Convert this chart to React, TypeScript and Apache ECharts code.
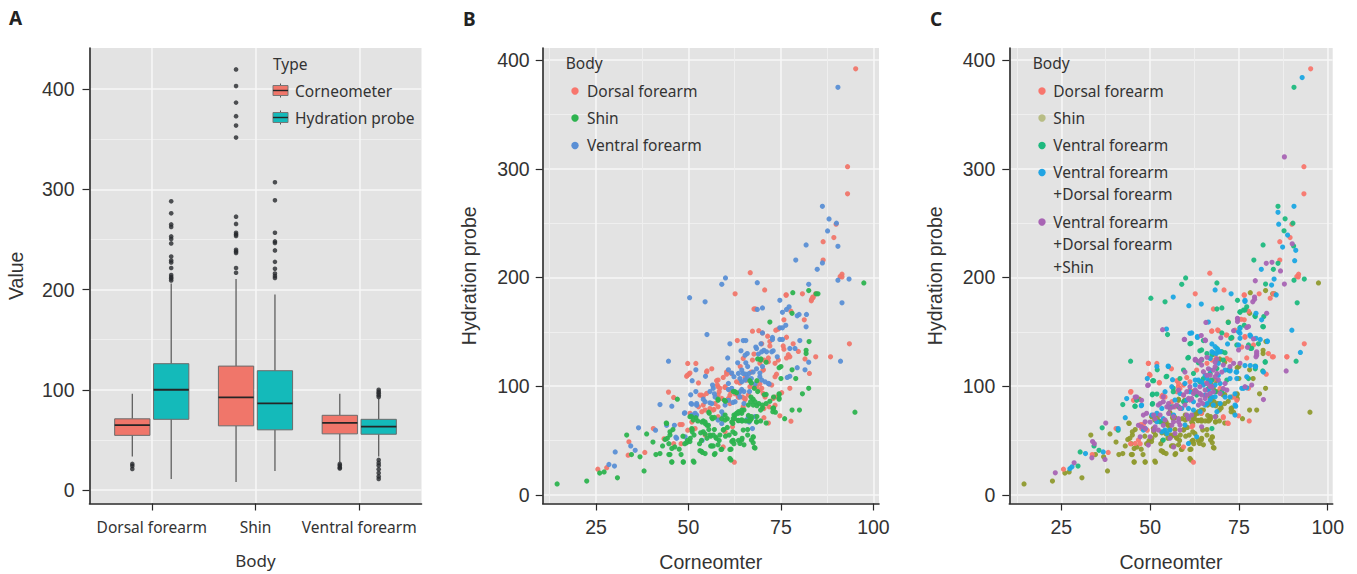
import React, { useEffect, useRef } from "react";
import * as echarts from "echarts";

const bodies = ["Dorsal forearm", "Shin", "Ventral forearm"];
// [low whisker, q1, median, q3, high whisker]
const boxCorneometer = [
  [33.5, 54.5, 64.7, 71, 96],
  [8, 64, 92.4, 123.6, 210.5],
  [28, 56, 67, 74.5, 96],
];
const boxHydration = [
  [11, 70.5, 100, 126, 206],
  [19, 60, 86.5, 119, 195],
  [33.5, 55.6, 63.3, 70.5, 91],
];
const outCorneometer = [
  [26, 24, 21],
  [419.6, 403, 386.5, 373, 363.6, 351.6, 272.7, 265.5, 256.7, 255, 253.5, 239.6, 238, 236.4, 221.5, 216.7],
  [26, 24.4, 22.5, 21.5],
];
const outHydration = [
  [288, 276, 265, 262.5, 253, 250.5, 246, 233, 229, 227, 221.5, 214.5, 212.4, 211, 209],
  [307, 289, 256.7, 248, 246.5, 239, 227.6, 220.7, 216, 213.5, 211.6],
  [100, 98, 96.4, 94.5, 92.7, 30, 27, 24.4, 20.7, 17, 13.5, 11],
];

const shin = [
  [14.5,10],[22.5,12.6],[26,20],[27.2,21],[30.8,15.6],[33.3,55],[34.6,37],[36.9,35],[38,22],[38.7,56],[40.4,48.5],[41.2,37],[42.3,38],[43,45],[44,66],[44.3,52],[45,55],[45,37],[45.5,30],[45.8,60],[46.3,44],[47,88],[48,37],[47.5,42],[48.6,30],[48.5,54],[49.5,48],[50.5,52],[50.8,72],[51,60],[51.5,55],[51.5,30],[52,71],[52.5,68],[53,47],[53.5,50],[53.5,40],[54.5,38],[54.5,67],[54,58],[55,64],[55,52],[55.5,76],[55.5,60],[56,54],[56,45],[56.5,70],[57,37],[57,60],[57.5,52],[58,88],[58,46],[58.5,55],[59,70],[59,42],[59.5,60],[60,86],[60.5,70],[60.5,62],[61,55],[61.5,42],[61.5,32],[62,50],[62.3,47],[62.5,70],[62.5,95],[63,94],[63.5,50],[63.5,75],[64,76],[64.5,52],[64.5,68],[65,46],[65,78],[65.5,68],[66,55],[66,60],[66.5,68],[67,70],[67,103],[67.5,88],[67.5,48],[67.5,53],[68,43],[68.5,105],[68.5,82],[68.5,72],[69,84],[69.5,78],[69.5,68],[70,80],[70.5,92],[71,66],[72,86],[73,90],[73,80],[73.5,76],[74.5,92],[74.5,88],[75,107],[75,118],[74.5,117],[76,70],[78,115],[78,78],[79,107],[80,78],[80.8,93],[82.5,98],
  [69.5,124],[71,122],[72,159],[78,167],[78.2,186],[82.5,188],[85,185],[84.5,185],[82.6,141],[81.8,130],[81.8,133],[95,76],[97.4,195],[68.7,125],[69.6,125],[66.9,90],[67.8,98],[66.6,105],[62.1,95],[59.7,87],[58,87],[55.6,75],[68,85.6],[67.5,82.6],[71,84],[72.8,79.5],[72.8,76.5],[74.5,93],[74.5,89],[71,92.4],[68.7,95],[66.2,73],[67,72],[66.8,69],[68.4,67],[64.4,69],[63.5,68.5],[64.4,75],[63,75],[62.6,73.4],[61.7,67],
  [53.6,67],[54.5,65.7],[55.4,64],[50.9,61],[51,58],[53.3,57],[54.5,56],[55.8,55],[56.7,55],[57.4,53],[58.3,50],[56.3,45],[56.7,45],[53.1,40.6],[53.8,39],[49.7,50],[49,47],[50.4,49],[45.5,42.7],[44.7,37],[43.7,51],[44.7,47],[58.8,41.8],[61.2,41.8],[63.9,47.3],[64.4,50.4],[61.7,49],[62.1,50],[60,54],[59.4,59.6],[62,58],[62.6,56.5],[64.8,59.6],[67,50.4],[67.5,53.4],[67.8,43.6],[57.2,38],[51.3,31],[48.6,30.4],[45.5,30.4],[61.2,33.5],[59.9,68.8],[59.9,73.4],[56.3,71.2],[57,71.2],[54,68],[50.4,71.9],[51.3,68.8],[44.1,65.7],[45,58],[62.3,73.4],[63.5,76.5],[64.4,78],[66.2,82.6],[66.8,85.7],[70,82.6],[62.1,70.3],[62,65.7],[63.5,68.2],[64.4,68.2],[66.2,68.2],[68.4,67.3],
];
const dorsal = [
  [95.2,392],[93,302],[93,277],[89.9,249],[89.3,236.7],[86.4,233],[86.4,216],[91.5,203],[91,201],[91.5,200.5],[66.7,204.4],[62.6,185],[70.6,188.5],[76.4,184],[80.8,185],[84.4,185],[83.6,182],[83.3,180],[83.2,178.5],[83.7,181.6],
  [93.5,139],[88.4,127],[84.4,127],[82.7,111.7],[77.4,98],[77.7,67.8],[74.7,72.7],[71.6,66],[70.4,71],[70.4,79.4],[71.8,81],[73,79.4],[73.4,82.5],[62.4,30],[59.4,44],[61.9,62.6],[61.9,67],[54.5,55],[48,47],[46,47],[43.4,51.5],[38.2,39],[33.9,48.8],[33.7,36.5],[27.9,25],[25.5,23.6],[40.5,61],[44.6,94.5],[46,89.6],[49.8,120.9],[52,120.9],[49.5,109],[50.1,111],[52.7,103],[55,114],[56.3,116],[57.6,105],[59.4,108],[60.3,113],[59.9,98.8],[58,99.4],[58.3,94.8],[53.6,91.7],[54,90.8],[52.7,81],[55.8,79.4],[57.2,84],[58,81],[56.7,78],[50.4,75],[49.8,59.5],[47.7,64.7],[48.3,64.7],[50.9,67],[60.8,87],[61.2,84],[63.5,90],[65.3,87.7],[64.8,81],[63.2,142],[67.3,150.6],[69,151],[70,149],[71.4,146],[73.6,151.5],[74.3,152.5],[75.8,161],[76.5,145],[81.3,161],[67.7,171],[68.1,171],[76.4,183.7],[77.7,169],[78.3,139],[75.6,137],[75.8,134],[77.4,127],[76.5,126],[77,129],[79.7,132],[81.5,125],[74.3,124],[73.4,121],[72,141],[72,137],[69.8,139],[67.7,129.5],[67.3,124],[70.4,124],[71.6,126],[70.2,115],[67,113],[64.8,125.5],[64,118],[61.6,111.7],[63,104],[65.3,108],[65.7,105.5],[68.4,99.4],[69.3,102],[69.8,98],[71.8,102],[72.5,101],[70.7,90],[73.4,90],[75.2,94],[61.2,96],[61.2,91.7],[62.6,93],[64.6,90],[67.7,98.8],
  [49.7,110],[50.4,112],[54.9,113],[58,105.6],[60.3,111],[57.8,101],[58.5,98],[59.9,99.5],[53.1,91.8],[54.9,93.3],[58,91.8],[59,88.7],[60.8,88.7],[54,82.6],[54.5,78],[56.9,78.6],[53.6,76.5],[51.8,61],[58,71.9],[59.9,58],[69.3,121],[71.6,122.5],[70.2,114.8],[73.4,108.7],[73.8,111],[63.9,103],[66.6,99.5],[69.3,96.4],[70.2,93.3],[72.9,88.7],[65.3,88.7],[66.2,91.8],[63.5,90],
];
const ventral = [
  [90.4,375],[86.2,265.5],[88,253.9],[90,250],[87.6,242.8],[81.8,230],[90.4,228.7],[79,216],[86.2,213.4],[84.8,207.5],[60,199.6],[59,193.7],[68.6,195.2],[90.4,197.5],[93.4,198.5],[82.5,193.7],[74.7,179],[50.3,181.4],
  [54.5,177.6],[91.5,176.7],[55,147.5],[44.6,123],[91.1,123],[82.5,122],[52,115],[54.6,109],[51,105],[50.6,92],[42.3,83],[45.5,81.6],[50.9,83.4],[52.2,82.5],[48.9,75],[50.9,73],[51.8,73],[36.5,61.7],[41.1,59.5],[44.1,64],[46.2,64],[46.8,52],[49.1,53.4],[53.7,50],[34.4,45],[35.6,41],[30.2,39.5],[28.5,28],[30,26.4],[61.2,139],[60.6,126],[63.3,121.5],[64.8,142],[65.5,142],[64.2,132.5],[65.3,128.5],[65.9,130],[68.2,136],[68.4,134.7],[69.6,139],[70,149],[68.9,129.5],[69.8,131.6],[70.4,133],[71.1,131.6],[72.5,131.6],[72.9,132.5],[72.7,144.8],[72.7,143],[74.7,143],[75.4,143],[74.7,153.7],[75.4,153.7],[76.3,156],[75.4,168],[76.5,170.6],[77.2,173],[79.4,164.7],[79.9,166],[81.9,166],[81.8,154.6],[68.6,170.6],[70,172],[77.4,134.7],[78.8,134.7],[80.1,142],[74,127],[79.4,117],[81.5,115],[76.7,108],[77.4,109],
  [65.5,121.5],[60.8,115],[61.7,112],[64.8,111.7],[65.5,111],[66.4,111.7],[69.3,112],[69.3,108.7],[69.8,105.6],[70.7,104],[71.8,102],[63.9,107],[64.4,104],[65.3,105.6],[65.9,108],[67,107],[56.5,101],[56.7,98],[55.8,95],[60.8,102.5],[61.7,98],[60.8,97],[64.4,97],[65,95],[57.2,90],[54.5,85.7],[55.8,84.7],[56.3,84],[50.7,84],[52.2,84],[49,75.5],[50.9,73.4],[51.8,75],[52.2,73.4],[59,76.4],[59.4,73.4],[58,68.8],[59,65.7],[46.6,53],[67.3,61],[66.2,72],[65.7,69],[66.4,67],[68,72],[59.9,82.6],[60.8,87],[62.6,85.7],[63.5,93],[63.9,90],
  [62.3,108.7],[63.5,111.7],[64.4,114.8],[67.5,113],[68.4,116],[71.6,102.5],[64,95],[62,85],[57,93],[54,88],[52,95],[66,118],[70,118],[68,102],[66.5,95],[65,84],
];

const cDorsal = [
  [95.2,392],[93.3,302],[93.3,277],[89.9,249],[89.4,236.7],[86.5,233],[86.5,216],[91.8,203],[91.3,201],[91.7,200.5],[66.8,204],[62.7,185],[70.8,188.5],[76.5,184],[80.7,185],[84.7,185],[83.8,181],
  [93.4,139],[88.5,127],[84.4,127],[82.7,111],[77.7,98],[77.9,68],[74.9,72.7],[71.8,66],[70.6,71],[62.2,30],[59.4,44],[62,63.5],[47.2,47],[44.5,47],[38.2,39],[33.7,37],[25.6,23.6],[44.5,94.5],[46,89.6],[49.5,120.9],[51.9,120.9],[49.8,111],[52.6,103],[56,116],[57.5,105],[60.3,108],[57.9,99.4],[53.5,91.7],[53.9,90.8],[48.1,64.7],[47.4,64.7],[49.2,59.5],[40.4,61],[67.3,150.6],[69.2,151],[71.6,147],[73.9,151.5],[76.5,161],[76.7,145],[67.8,171],[76.5,183.7],[77.7,169],[75.8,136],[77.2,126],
  [52.6,103.4],[50,110],[58,102.5],[57.5,94.9],[59.4,101],[61.2,104],[58.4,97.9],[67.4,124],[68.3,128.6],[72.5,124],[71.6,125.5],[74.4,87],[70.6,71.9],[72,65.7],[45.3,87],[54.2,90],[56.1,85.7],[73.5,90],[59.4,91.8],[61.7,62.6],[49.5,121],[44.6,95],
  [66,121],[63.1,114.8],[65.5,102.5],[67.8,105.6],[69.7,97.9],[61.2,96.4],[64.5,75],[53.3,90.3],[57,81],[46.7,50.4],[45.8,47.3],[47.6,61],
  [67.4,150.8],[69,151.7],[71.4,147],[73,144],[76.7,145.6],[79.1,137.9],[75.6,161.5],[83.3,130],[84.7,127],[88.5,127],
];
const cVentral = [
  [90.5,375],[86,265.5],[88,254],[90.2,250],[87.7,243],[81.8,230],[90.4,229],[79.2,216],[86,213],[84.7,207.5],[60,199.6],[58.9,193.7],[68.8,195],[90.5,197.5],[93.4,198.5],[82.5,194],[74.6,179],[50.2,181],
  [54.2,177.6],[91.4,176.7],[54.9,147.5],[44.5,123],[91.1,123],[82.4,122],[52,115],[54.7,109],[50.7,105],[50.6,92],[42.3,83],[45.7,81.6],[50.6,83.4],[36.5,61.7],[41,59.5],[30.3,39.5],[29.7,26.4],[35.6,41],[34.2,45],[61.2,139],[60.6,126],[64,132.5],[65,142],[68.8,134.7],[69.2,131.6],[73,144.8],[75.3,168],[76.3,170],[77.2,173],[79.5,164.7],[81.9,154.6],[68.8,171],[70.2,172],[78.3,134.7],[80.5,139],[79.6,116],[81.7,114],[72,158.6],[70.2,149],
  [60.8,126.4],[63.6,121.5],[66,130],[70.6,124],[51,105],[54.5,108.7],[56.5,98],[56.5,94.9],[50.7,92.7],[51.9,92.7],[50.7,84],[45.8,81.6],[58.4,107],[59.4,114.8],[64,104],[67.4,105.6],[63.1,91.8],[67.4,61],[53.7,50.4],[66.9,111.7],[68.3,94.9],[62.2,111.7],[71.6,105.6],[77.7,107],[79.6,118.5],[82.4,122.5],[46.2,87],[58,81],
  [65,107],[66.4,97.9],[70.2,94.9],[64.5,124],[67.4,128.6],[68.8,116.3],[72,114.8],[56.1,81],[59.4,85.7],[52.8,67.2],
  [64.5,133.3],[61.5,139.4],[70.2,131.7],[71.1,130.8],[72.7,144],[74.4,137.9],[77.7,137.9],[78.6,134.8],[75.3,154],[76.5,156],[75.3,168.5],[76.7,170],[79.6,164],[82,164],[81.7,154.8],
];
const cBoth = [
  [92.8,384],[90.5,265.5],[86,260],[86.2,249],[88.7,239],[87.3,228],[91,225],[90.7,215.5],[81.3,207.5],[84.9,198.5],[84.2,193],[68.3,188.5],[72.8,185],[56.5,182],[76.7,179],[85.5,184],
  [89.9,151.5],[92.3,131],[60.9,174],[64.4,175.5],[54.6,152.5],[55.1,118],[43.4,88.6],[43,71],[41,61],[31.8,38],[36.8,39.5],[28,25.8],[27.4,24],[47.5,82],[49.2,107],[61.7,149],[63.3,144.8],[66.4,159],[74.9,150],[75.3,153],[79.8,167],[81.4,161],[78.1,147],[81,143],[83,141],[74.1,81.6],[73.9,93],[76.3,98],[77.2,108.6],[79.7,118],[74.2,113],[72.5,115],
  [55.1,118.5],[51.9,118],[56.3,106],[66,107],[66.9,104],[63.6,105.6],[69.2,110],[72.5,114],[74.4,113],[72.5,107],[74.4,107],[66.4,96.4],[65,101],[66,84],[67.4,90],[68.8,76.5],[73.9,82.6],[73.9,73.4],[75.8,98],[77.2,98.5],[54.2,94.9],[56.1,99.5],[58.4,93.3],[60.8,79.5],[62.2,85.7],[62.7,105.6],[53.7,70],[50.5,73.4],[51.9,75],[47.6,82.6],[48.1,59.6],[48.6,61],[53.3,58],[54.7,56.5],[55.6,59.6],[60.8,47.3],[63.1,53.4],[78.2,119],[76.7,119],[81.9,113],[79.6,118],[67.8,130.7],[69.7,131.7],[71.1,90],[69.7,84],[72.5,90],
  [66.9,114.8],[65.5,110],[64.5,104],[65.5,91.8],[66.9,87.2],[67.8,82.6],[62.7,101],[61.2,94.9],[59.8,102.5],[60.3,87.2],[57,87.2],[55.2,81],[53.3,79.5],[51.9,67.2],[54.2,59.6],[59.8,64.2],[68.3,101],[69.7,102.5],[71.1,114.8],[69.2,121],[66.9,125.5],
  [67.4,138.8],[68.3,136.3],[69,133.9],[69.5,131.7],[68.6,130],[71.8,138.8],[74.9,137.9],[75.3,148.6],[78.3,146],[79.8,144],[83,141.6],[75.3,144],[67.4,131.7],[76.7,177.8],[61.2,148.6],[63.3,145.6],
  [58.9,79.5],[62.2,78],[56.6,73.4],[60.8,71.9],[64.1,76.5],[65.5,82.6],[67.4,99.5],[68.3,90.2],
];
const cAll = [
  [87.8,311],[90,231],[84.3,214],[82.7,213],[86.7,206],[87.8,194],[79.6,197],[79.4,182],[88.3,114],[81.9,87.7],[53.5,152],[65.7,158.6],[59.6,143],[65.6,142],[62.8,124],[63.9,123],[77.2,154],[74.6,162],[82.8,167],[80,131.6],[80,128.5],[79.4,180],[78.9,177.6],[49.3,100.6],[47.6,87],[46.2,90],[37.5,66],[33.8,49],[33.6,34],[37.3,32.5],[28.6,29.4],[23.3,20.2],[34.3,47],
  [66.4,116],[67.8,114.8],[68.8,111.7],[66.9,110],[69.2,105.6],[66,102.5],[67.4,99.5],[65.5,96.4],[66.9,93.3],[64.1,87],[64.8,84],[62.7,96.4],[60.3,94.9],[59.4,91.8],[61.7,88.7],[55.2,84],[56.6,81],[52.8,84],[53.7,85.7],[48.1,73.4],[49,75],[51.4,70],[50,67],[46.7,64],[48.6,61],[51,59.6],[47.2,53.4],[49.5,45.8],[55.6,52],[57,56.5],[58.4,59.6],[56.6,44],[64.5,62.6],[60.8,70],[68.3,71.9],[50,53.4],[52.3,59.6],[71.1,102.5],[71.6,96.4],[75.3,121],[72.5,118],[68.3,122],[68.8,125],[70.2,113],[59.8,113],[62.7,124],[64.5,119.4],[76.7,99.5],[78.6,101],[45.8,90],[49.5,101],[58,96.4],[61.2,99.5],[64,93.3],[65.5,88.7],[63.6,82.6],[60.3,73.4],[58,70],[56.1,64],[53.7,64],
  [65,113.3],[66,110],[68.3,108.7],[64,99.5],[63.1,94.9],[64.5,91.8],[66,91.8],[62.2,93.3],[60.8,88.7],[66.9,99.5],[67.8,94.9],[69.7,93.3],[70.6,97.9],[68.3,117.9],[70.6,119.4],[73.5,121],[55.6,79.5],[54.7,81],[57.5,82.6],[58.4,79.5],[48.6,67.2],[47.6,62.6],[51.4,62.6],[54.2,68.8],[56.6,71.9],[58.4,64.2],[61.7,73.4],
  [59.7,143],[64.4,146.5],[65.5,142.5],[69.9,144.6],[73.5,151],[74.6,162.4],[74.6,159.4],[77.7,154.8],[80,130],[79.8,127],[74.9,133.3],[77.4,135.7],[79.1,143.4],[66,126.5],[64.5,124.7],[62.7,124.7],
  [59.8,82.6],[61.2,87.2],[53.7,90.3],[52.3,82.6],[55.2,74.9],[58,67.2],[51,73.4],[52.8,73.4],[56.6,67.2],
];

const yTicks = [0, 100, 200, 300, 400];
const yMinor = [50, 150, 250, 350];
const xTicks = [25, 50, 75, 100];
const xMinor = [12.5, 37.5, 62.5, 87.5];

const C_RED = "#F0766A";
const C_TEAL = "#14BABA";
const DARK = "#333333";
const NUM_FONT = "Liberation Sans";
const TXT_FONT = "Noto Sans";

const grids = [
  { left: 89.5, top: 48, width: 332, height: 455.5 },
  { left: 542.7, top: 48, width: 336.3, height: 455.5 },
  { left: 1009.3, top: 48, width: 323.4, height: 455.5 },
];

const axisLine = { show: true, onZero: false, lineStyle: { color: "#2a2a2a", width: 1.6 } };
const axisTick = (vals: number[]) => ({ show: true, length: 7, customValues: vals, lineStyle: { color: "#2a2a2a", width: 1.2 } });
const major = { show: true, lineStyle: { color: "#F7F7F7", width: 1.6 } };
const minor = { show: true, lineStyle: { color: "#EFEFEF", width: 1 } };

function minorAxis(gridIndex: number, min: number, max: number, vals: number[]) {
  return {
    type: "value", gridIndex, min, max,
    axisLine: { show: false }, axisLabel: { show: false },
    axisTick: { show: false, customValues: vals }, splitLine: minor,
  };
}
function valueX(gridIndex: number, min: number, max: number) {
  return {
    type: "value", gridIndex, min, max, name: "Corneomter", nameLocation: "middle", nameGap: 48,
    nameTextStyle: { color: DARK, fontSize: 19.5, fontFamily: NUM_FONT },
    axisLine, axisTick: axisTick(xTicks), splitLine: major,
    axisLabel: { customValues: xTicks, color: DARK, fontSize: 19.5, fontFamily: NUM_FONT, margin: 13 },
  };
}
function valueY(gridIndex: number, min: number, max: number, name: string, gap: number, margin: number) {
  return {
    type: "value", gridIndex, min, max, name, nameLocation: "middle", nameGap: gap,
    nameTextStyle: { color: DARK, fontSize: 19.5, fontFamily: NUM_FONT },
    axisLine, axisTick: axisTick(yTicks), splitLine: major,
    axisLabel: { customValues: yTicks, color: DARK, fontSize: 19.5, fontFamily: NUM_FONT, margin },
  };
}

function boxSeries(name: string, rows: number[][], offset: number, fill: string) {
  return {
    type: "custom", name, xAxisIndex: 0, yAxisIndex: 0, z: 3,
    data: rows.map((r, i) => [i + 1, ...r]),
    encode: { x: 0, y: [1, 2, 3, 4, 5] },
    renderItem: (_: any, api: any) => {
      const c = api.value(0) + offset;
      const half = 0.17;
      const P = (x: number, y: number) => api.coord([x, y]);
      const [lo, q1, med, q3, hi] = [1, 2, 3, 4, 5].map((k) => api.value(k));
      const whisker = { stroke: "#555555", lineWidth: 1.2 };
      const seg = (a: number[], b: number[], style: any) => ({
        type: "line", shape: { x1: a[0], y1: a[1], x2: b[0], y2: b[1] }, style,
      });
      const tl = P(c - half, q3);
      const br = P(c + half, q1);
      return {
        type: "group",
        children: [
          seg(P(c, lo), P(c, q1), whisker),
          seg(P(c, q3), P(c, hi), whisker),
          {
            type: "rect",
            shape: { x: tl[0], y: tl[1], width: br[0] - tl[0], height: br[1] - tl[1] },
            style: { fill, stroke: "#6b6b6b", lineWidth: 1 },
          },
          seg(P(c - half, med), P(c + half, med), { stroke: "#262626", lineWidth: 1.8 }),
        ],
      };
    },
  };
}
function outlierSeries(rows: number[][], offset: number) {
  return {
    type: "scatter", xAxisIndex: 0, yAxisIndex: 0, symbolSize: 4.6, z: 4,
    itemStyle: { color: "#25282C" },
    data: rows.flatMap((vals, i) => vals.map((v) => [i + 1 + offset, v])),
  };
}
function dots(name: string, data: number[][], color: string, xi: number, yi: number, z: number) {
  return {
    type: "scatter", name, data, xAxisIndex: xi, yAxisIndex: yi, symbolSize: 5.2, z,
    itemStyle: { color, opacity: 0.95 },
  };
}

function label(text: string, x: number, y: number, size = 15.5, font = TXT_FONT, weight = "normal", color = DARK) {
  return {
    type: "text", x, y, silent: true, z: 100,
    style: { text, fill: color, fontSize: size, fontFamily: font, fontWeight: weight, textVerticalAlign: "middle", textBaseline: "middle" },
  };
}
function dotKey(x: number, y: number, fill: string) {
  return { type: "circle", z: 100, shape: { cx: x, cy: y, r: 3.7 }, style: { fill }, silent: true };
}
function boxKey(x: number, y: number, fill: string) {
  return {
    type: "group", silent: true,
    children: [
      { type: "line", z: 100, shape: { x1: x + 7.5, y1: y - 7, x2: x + 7.5, y2: y + 7 }, style: { stroke: "#555", lineWidth: 1 } },
      { type: "rect", z: 101, shape: { x, y: y - 5, width: 15, height: 10 }, style: { fill, stroke: "#777", lineWidth: 1 } },
      { type: "line", z: 102, shape: { x1: x, y1: y, x2: x + 15, y2: y }, style: { stroke: "#262626", lineWidth: 1.4 } },
    ],
  };
}

const graphics = [
  label("A", 9, 18, 19, TXT_FONT, "bold", "#222"),
  label("B", 463, 19, 19, TXT_FONT, "bold", "#222"),
  label("C", 930, 19, 19, TXT_FONT, "bold", "#222"),
  label("Type", 273, 63.5),
  boxKey(273, 90.5, C_RED),
  label("Corneometer", 295, 90.5),
  boxKey(273, 117.5, C_TEAL),
  label("Hydration probe", 295, 117.5),
  label("Body", 565.7, 63),
  dotKey(575, 91, "#F8766D"),
  label("Dorsal forearm", 587, 90.5),
  dotKey(575, 118, "#2DB34F"),
  label("Shin", 587, 117.5),
  dotKey(575, 145.5, "#5A8FD5"),
  label("Ventral forearm", 587, 145.3),
  label("Body", 1032.7, 63),
  dotKey(1042, 91, "#F8766D"),
  label("Dorsal forearm", 1053.3, 90.7),
  dotKey(1042, 118, "#B8BD85"),
  label("Shin", 1053.3, 117.7),
  dotKey(1042, 145.5, "#1DB97E"),
  label("Ventral forearm", 1053.3, 145.3),
  dotKey(1042, 172.5, "#21A4E3"),
  label("Ventral forearm", 1053.3, 172.3),
  label("+Dorsal forearm", 1053.3, 194.3),
  dotKey(1042, 222, "#A864B4"),
  label("Ventral forearm", 1053.3, 221.7),
  label("+Dorsal forearm", 1053.3, 244.3),
  label("+Shin", 1053.3, 266.7),
];

export default function App() {
  const ref = useRef<HTMLDivElement>(null);
  useEffect(() => {
    document.body.style.margin = "0";
    const chart = echarts.init(ref.current!, null, { renderer: "svg" });
    chart.setOption({
      animation: false,
      backgroundColor: "#ffffff",
      grid: grids.map((g) => ({ ...g, show: true, backgroundColor: "#E3E3E3", borderWidth: 0, containLabel: false, outerBoundsMode: "none" })),
      xAxis: [
        {
          type: "value", gridIndex: 0, min: 0.4, max: 3.6, name: "Body", nameLocation: "middle", nameGap: 48,
          nameTextStyle: { color: DARK, fontSize: 17, fontFamily: TXT_FONT },
          axisLine, axisTick: axisTick([1, 2, 3]), splitLine: major,
          axisLabel: { customValues: [1, 2, 3], formatter: (v: number) => bodies[v - 1], color: DARK, fontSize: 15.5, fontFamily: TXT_FONT, margin: 15 },
        },
        valueX(1, 10.6, 101.5),
        minorAxis(1, 10.6, 101.5, xMinor),
        valueX(2, 10.35, 101.4),
        minorAxis(2, 10.35, 101.4, xMinor),
      ],
      yAxis: [
        valueY(0, -13.5, 441, "Value", 64, 15),
        minorAxis(0, -13.5, 441, yMinor),
        valueY(1, -8, 411.2, "Hydration probe", 64, 13),
        minorAxis(1, -8, 411.2, yMinor),
        valueY(2, -8, 411.2, "Hydration probe", 64, 14),
        minorAxis(2, -8, 411.2, yMinor),
      ],
      series: [
        boxSeries("Corneometer", boxCorneometer, -0.1875, C_RED),
        boxSeries("Hydration probe", boxHydration, 0.1875, C_TEAL),
        outlierSeries(outCorneometer, -0.1875),
        outlierSeries(outHydration, 0.1875),
        dots("Dorsal forearm", dorsal, "#F0766A", 1, 2, 3),
        dots("Ventral forearm", ventral, "#5A8FD5", 1, 2, 4),
        dots("Shin", shin, "#2DB34F", 1, 2, 5),
        dots("Shin", shin, "#8F9A2E", 3, 4, 3),
        dots("Dorsal forearm", cDorsal, "#F8766D", 3, 4, 4),
        dots("Ventral forearm", cVentral, "#1DB97E", 3, 4, 5),
        dots("Ventral forearm +Dorsal forearm", cBoth, "#1AA6E3", 3, 4, 6),
        dots("Ventral forearm +Dorsal forearm +Shin", cAll, "#A864B4", 3, 4, 7),
      ],
      graphic: graphics,
    });
    return () => chart.dispose();
  }, []);
  return <div ref={ref} style={{ width: 1357, height: 574 }} />;
}
